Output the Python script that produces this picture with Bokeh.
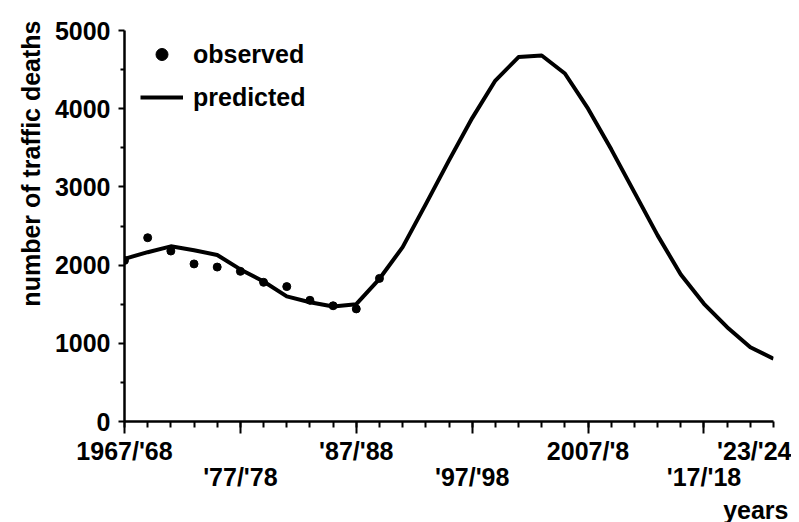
from bokeh.plotting import figure
from bokeh.models import (FixedTicker, LinearAxis, Legend, LegendItem, Title, Range1d,
                          CustomLabelingPolicy)
from bokeh.embed import file_html
from bokeh.resources import INLINE

# ---- data ----
pred_years = [1967, 1969, 1971, 1973, 1975, 1977, 1979, 1981, 1983, 1985,
              1987, 1989, 1991, 1993, 1995, 1997, 1999, 2001, 2003, 2005,
              2007, 2009, 2011, 2013, 2015, 2017, 2019, 2021, 2023]
pred_deaths = [2080, 2165, 2240, 2190, 2130, 1945, 1790, 1600, 1525, 1470,
               1500, 1825, 2230, 2780, 3340, 3880, 4360, 4660, 4680, 4450,
               4000, 3480, 2930, 2380, 1880, 1505, 1206, 950, 802]

obs_years = [1967, 1969, 1971, 1973, 1975, 1977, 1979, 1981, 1983, 1985, 1987, 1989]
obs_deaths = [2060, 2350, 2180, 2015, 1975, 1920, 1780, 1725, 1550, 1480, 1440, 1830]

major_x = [1967, 1977, 1987, 1997, 2007, 2017]
minor_x = list(range(1967, 2024, 2))
row1_ticks = [1967, 1987, 2007, 2023]
row1_labels = ["1967/'68", "'87/'88", "2007/'8", "'23/'24"]
row2_ticks = [1977, 1997, 2017]
row2_labels = ["'77/'78", "'97/'98", "'17/'18"]
y_ticks = [0, 1000, 2000, 3000, 4000, 5000]
y_minor = [500, 1500, 2500, 3500, 4500]

FONT = "Liberation Sans"
FS = "25px"
INK = "black"

p = figure(frame_width=649, frame_height=391,
           x_range=Range1d(1967, 2023), y_range=Range1d(0, 5000),
           output_backend="svg", toolbar_location=None,
           min_border_left=124, min_border_top=30, min_border_right=18,
           min_border_bottom=0)
p.outline_line_color = None
p.grid.visible = False
p.background_fill_color = "white"
p.border_fill_color = "white"

r_pred = p.line(pred_years, pred_deaths, line_width=4, color=INK, line_join="round")
r_obs = p.scatter(obs_years, obs_deaths, size=8, color=INK)

# y axis
ya = p.yaxis[0]
ya.ticker = FixedTicker(ticks=y_ticks, minor_ticks=y_minor)
ya.major_label_text_font = FONT
ya.major_label_text_font_size = FS
ya.major_label_text_font_style = "bold"
ya.major_label_text_color = INK
ya.major_label_standoff = 8
ya.axis_line_width = 2.5
ya.axis_line_color = INK
ya.major_tick_line_width = 2
ya.minor_tick_line_width = 2
ya.major_tick_out = 6
ya.major_tick_in = 0
ya.minor_tick_out = 4
ya.minor_tick_in = 0

# y axis title, pushed towards the top as in the reference
p.add_layout(Title(text="number of traffic deaths", align="right", text_font=FONT,
                   text_font_size=FS, text_font_style="bold", text_color=INK,
                   vertical_align="top", offset=-10, standoff=10), "left")

# x axis: line and ticks only (labels suppressed by the policy)
xa = p.xaxis[0]
xa.ticker = FixedTicker(ticks=major_x, minor_ticks=minor_x)
xa.major_label_policy = CustomLabelingPolicy(code="""
    for (const i of indices) { indices.unset(i) }
    return indices
""")
xa.major_label_text_font_size = "1px"
xa.major_label_standoff = 0
xa.axis_line_width = 2.5
xa.axis_line_color = INK
xa.major_tick_line_width = 2
xa.minor_tick_line_width = 2
xa.major_tick_out = 12
xa.major_tick_in = 0
xa.minor_tick_out = 6
xa.minor_tick_in = 0

def label_axis(ticks, labels, standoff):
    return LinearAxis(ticker=FixedTicker(ticks=ticks, minor_ticks=[]),
                      major_label_overrides={t: l for t, l in zip(ticks, labels)},
                      axis_line_color=None, major_tick_line_color=None,
                      minor_tick_line_color=None,
                      major_tick_out=0, major_tick_in=0,
                      minor_tick_out=0, minor_tick_in=0,
                      major_label_standoff=standoff,
                      major_label_text_font=FONT,
                      major_label_text_font_size=FS,
                      major_label_text_font_style="bold",
                      major_label_text_color=INK)

p.add_layout(label_axis(row1_ticks, row1_labels, -1), "below")
p.add_layout(label_axis(row2_ticks, row2_labels, -5), "below")

p.add_layout(Title(text="years", align="right", text_font=FONT, text_font_size=FS,
                   text_font_style="bold", text_color=INK, offset=-15, standoff=0),
             "below")

legend = Legend(items=[LegendItem(label="observed", renderers=[r_obs]),
                       LegendItem(label="predicted", renderers=[r_pred])],
                location=(16, 309), glyph_width=43, glyph_height=30,
                label_height=30, spacing=13, padding=0, margin=0,
                label_standoff=10, border_line_alpha=0, background_fill_alpha=0,
                label_text_font=FONT, label_text_font_size=FS,
                label_text_font_style="bold", label_text_color=INK)
p.add_layout(legend)

open("out.html", "w").write(file_html(p, INLINE))
